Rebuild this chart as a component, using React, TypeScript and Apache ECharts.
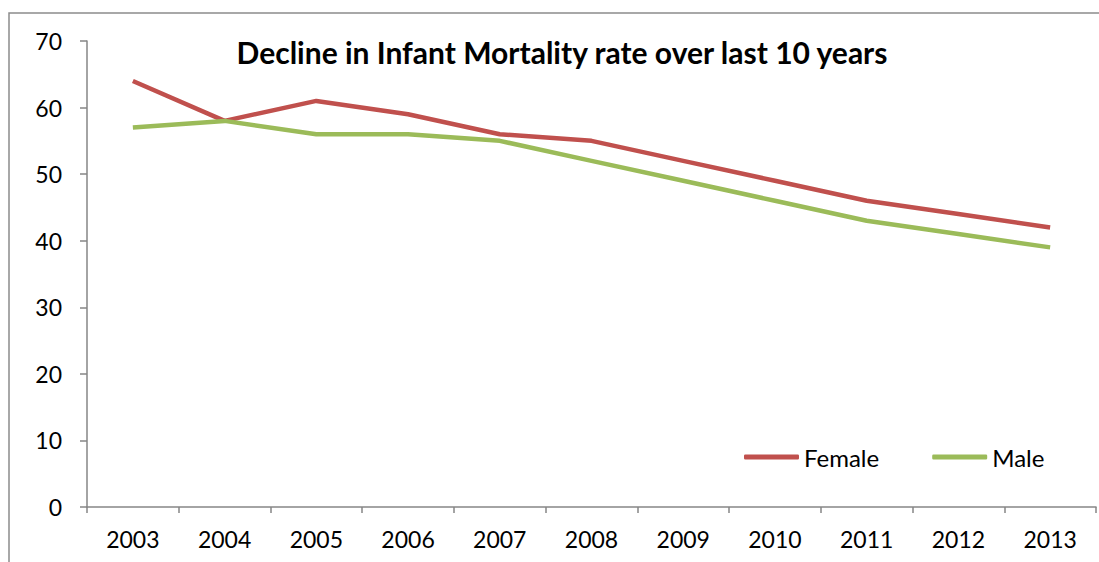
import React, { useEffect, useRef } from "react";
import * as echarts from "echarts";

const years = ["2003", "2004", "2005", "2006", "2007", "2008", "2009", "2010", "2011", "2012", "2013"];
const female = [64, 58, 61, 59, 56, 55, 52, 49, 46, 44, 42];
const male = [57, 58, 56, 56, 55, 52, 49, 46, 43, 41, 39];
const titleText = "Decline in Infant Mortality rate over last 10 years";

const FONT = "Lato, 'Open Sans', sans-serif";

export default function App() {
  const ref = useRef<HTMLDivElement>(null);
  useEffect(() => {
    if (!ref.current) return;
    const chart = echarts.init(ref.current, null, { renderer: "svg" });
    chart.setOption({
      animation: false,
      backgroundColor: "#ffffff",
      title: {
        text: titleText,
        left: 557,
        top: 32,
        textAlign: "center",
        textStyle: { fontFamily: FONT, fontWeight: "bold", fontSize: 30, color: "#000" },
      },
      graphic: [
        {
          type: "rect",
          shape: { x: 9, y: 13, width: 1300, height: 700 },
          style: { fill: "none", stroke: "#8c8c8c", lineWidth: 1.5 },
          silent: true,
        },
      ],
      legend: {
        left: 739,
        top: 440,
        itemWidth: 55,
        itemHeight: 5,
        itemGap: 53,
        icon: "roundRect",
        textStyle: { fontFamily: FONT, fontSize: 24, color: "#000" },
        data: ["Female", "Male"],
      },
      grid: { left: 87, top: 41, right: 3, bottom: 55 },
      xAxis: {
        type: "category",
        data: years,
        boundaryGap: true,
        axisLine: { lineStyle: { color: "#868686", width: 1.5 } },
        axisTick: { show: true, length: 6, lineStyle: { color: "#868686", width: 1.5 } },
        axisLabel: { fontFamily: FONT, fontSize: 23, color: "#000", margin: 20 },
        splitLine: { show: false },
      },
      yAxis: {
        type: "value",
        min: 0,
        max: 70,
        interval: 10,
        axisLine: { show: true, lineStyle: { color: "#868686", width: 1.5 } },
        axisTick: { show: true, length: 7, lineStyle: { color: "#868686", width: 1.5 } },
        axisLabel: { fontFamily: FONT, fontSize: 23, color: "#000", margin: 25 },
        splitLine: { show: false },
      },
      series: [
        {
          name: "Female",
          type: "line",
          data: female,
          symbol: "none",
          lineStyle: { color: "#C0504D", width: 4.5 },
          itemStyle: { color: "#C0504D" },
        },
        {
          name: "Male",
          type: "line",
          data: male,
          symbol: "none",
          lineStyle: { color: "#9BBB59", width: 4.5 },
          itemStyle: { color: "#9BBB59" },
        },
      ],
    });
    return () => chart.dispose();
  }, []);
  return (
    <div
      ref={ref}
      style={{ position: "fixed", left: 0, top: 0, width: 1099, height: 562 }}
    />
  );
}
